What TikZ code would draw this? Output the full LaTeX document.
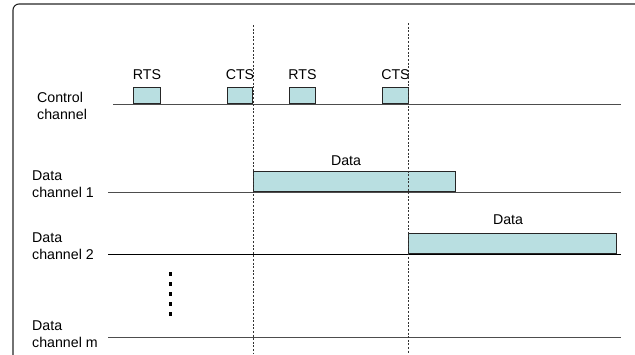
\documentclass[tikz,border=0pt]{standalone}
\usepackage{fontspec}
\setmainfont{Liberation Sans}
\usetikzlibrary{positioning}
\definecolor{pktcyan}{HTML}{B9DFE1}
\definecolor{linegray}{HTML}{4D4D4D}
\tikzset{
  pkt/.style={draw=black!85, fill=pktcyan, line width=0.9pt, inner sep=0pt, anchor=south west},
  chline/.style={draw=linegray, line width=1pt},
  syncline/.style={draw=black!80, line width=0.8pt, dash pattern=on 2pt off 1.6pt},
  chlbl/.style={align=left, anchor=west, inner sep=0pt, font=\fontsize{14.2}{17}\selectfont},
  pktlbl/.style={inner sep=0pt, font=\fontsize{14.2}{17}\selectfont},
  vdot/.style={fill=black, minimum size=3.2pt, inner sep=0pt},
  frame/.style={draw=black!85, line width=1.1pt, rounded corners=6pt},
}

\begin{document}
\begin{tikzpicture}[x=1pt, y=-1pt]
    \useasboundingbox (0,0) rectangle (635,354);
    \begin{scope}
      \clip (0,0) rectangle (635,354);
      \draw[frame] (13,380) |- (660,4);
    \end{scope}

    % channels
    \coordinate (ctrlA) at (113,104);  \coordinate (ctrlB) at (621,104);
    \coordinate (dch1A) at (108,192);  \coordinate (dch1B) at (621,192);
    \coordinate (dch2A) at (108,254);  \coordinate (dch2B) at (621,254);
    \coordinate (dchmA) at (108,337);  \coordinate (dchmB) at (621,337);
    \draw[chline] (ctrlA) -- (ctrlB);
    \draw[chline] (dch1A) -- (dch1B);
    \draw[chline, draw=black] (dch2A) -- (dch2B);
    \draw[chline] (dchmA) -- (dchmB);

    \node[chlbl] (ctrllbl) at (37,106) {Control\\channel};
    \node[chlbl] (dch1lbl) at (32,184) {Data\\channel 1};
    \node[chlbl] (dch2lbl) at (32,246) {Data\\channel 2};
    \node[chlbl] (dchmlbl) at (32,334) {Data\\channel m};

    % control packets
    \node[pkt, minimum width=27pt, minimum height=16pt] (rts1) at (133,104) {};
    \node[pkt, minimum width=25pt, minimum height=16pt] (cts1) at (227,104) {};
    \node[pkt, minimum width=26pt, minimum height=16pt] (rts2) at (289,104) {};
    \node[pkt, minimum width=26pt, minimum height=16pt] (cts2) at (382,104) {};
    \node[pktlbl, above=7pt of rts1] (rts1lbl) {RTS};
    \node[pktlbl, above=7pt of cts1] (cts1lbl) {CTS};
    \node[pktlbl, above=7pt of rts2] (rts2lbl) {RTS};
    \node[pktlbl, above=7pt of cts2] (cts2lbl) {CTS};

    % data packets
    \node[pkt, minimum width=202pt, minimum height=20pt] (data1) at (253,192) {};
    \node[pkt, minimum width=208pt, minimum height=20pt] (data2) at (408,254) {};
    \node[pktlbl] (data1lbl) at (346,161) {Data};
    \node[pktlbl] (data2lbl) at (508,220) {Data};

    \foreach \y in {274,284,...,314}
      \node[vdot] (dot\y) at (170.5,\y) {};

    % sync lines
    \coordinate (sync1top) at (253,25);  \coordinate (sync1bot) at (253,354);
    \coordinate (sync2top) at (408,23);  \coordinate (sync2bot) at (408,354);
    \draw[syncline] (sync1top) -- (sync1bot);
    \draw[syncline] (sync2top) -- (sync2bot);
  \end{tikzpicture}
\end{document}
